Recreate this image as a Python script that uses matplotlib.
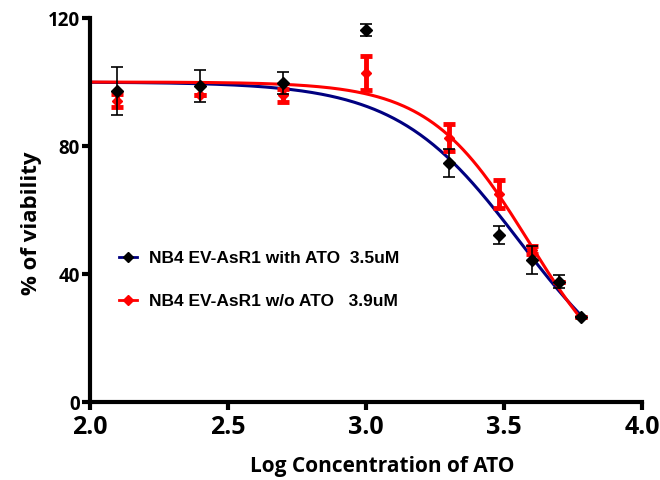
"""NB4 EV-AsR1 viability vs ATO"""
import numpy as np
import matplotlib
matplotlib.use('Agg')
import matplotlib.pyplot as plt

plt.rcParams['font.family'] = ['Open Sans', 'DejaVu Sans']

# data
log_conc = [2.1, 2.4, 2.7, 3.0, 3.3, 3.48, 3.6, 3.7, 3.78]
with_ato = [97.2, 98.7, 99.6, 116.2, 74.6, 52.2, 44.4, 37.6, 26.5]
with_ato_err = [7.5, 4.9, 3.4, 1.8, 4.4, 2.8, 4.4, 2.1, 0.0]
wo_ato = [94.2, 96.0, 95.8, 102.9, 82.6, 65.0, 47.6, 37.6, 26.5]
wo_ato_err = [2.0, 0.0, 2.0, 5.3, 4.2, 4.3, 1.3, 0.0, 0.0]

# fitted 4PL parameters (top, bottom, logIC50, hill)
fit_with = (100.0, 0.0, 3.558, 1.95)
fit_wo = (100.0, 0.0, 3.59, 2.4)

labels = ['NB4 EV-AsR1 with ATO  3.5uM', 'NB4 EV-AsR1 w/o ATO   3.9uM']


def four_pl(x, top, bottom, logic50, hill):
    return bottom + (top - bottom) / (1 + 10 ** ((x - logic50) * hill))


fig = plt.figure(figsize=(6.6, 4.8), dpi=100)
ax = fig.add_axes([0.136, 0.1625, 0.837, 0.8])

xs = np.linspace(2.0, 3.78, 300)
ax.plot(xs, four_pl(xs, *fit_with), color='#000080', linewidth=2.2, zorder=2)
ax.plot(xs, four_pl(xs, *fit_wo), color='#ff0000', linewidth=2.2, zorder=2)

ax.errorbar(log_conc, wo_ato, yerr=wo_ato_err, fmt='D', color='#ff0000',
            markersize=5.5, elinewidth=3.5, capsize=4, capthick=3.5, zorder=3)
ax.errorbar(log_conc, with_ato, yerr=with_ato_err, fmt='D', color='black',
            markersize=6, elinewidth=1.2, capsize=4, capthick=1.2, zorder=4)

# legend handles
h1, = ax.plot([], [], color='#000080', marker='D', markerfacecolor='black',
              markeredgecolor='black', markersize=5, linewidth=2)
h2, = ax.plot([], [], color='#ff0000', marker='D', markersize=5, linewidth=2)
ax.legend([h1, h2], labels, loc='upper left', bbox_to_anchor=(0.025, 0.435),
          frameon=False, handlelength=1.0, handletextpad=0.7, labelspacing=1.6,
          prop={'family': ['Liberation Sans', 'DejaVu Sans'], 'weight': 'bold', 'size': 12.5})

ax.set_xlim(2.0, 4.0)
ax.set_ylim(0, 120)
ax.set_xticks([2.0, 2.5, 3.0, 3.5, 4.0])
ax.set_xticklabels(['2.0', '2.5', '3.0', '3.5', '4.0'])
ax.set_yticks([0, 40, 80, 120])

for side in ['top', 'right']:
    ax.spines[side].set_visible(False)
for side in ['left', 'bottom']:
    ax.spines[side].set_linewidth(3)

ax.tick_params(axis='x', width=3, length=6, labelsize=18, pad=3)
ax.tick_params(axis='y', width=3, length=6, labelsize=13.5, pad=1)
for lab in ax.get_xticklabels() + ax.get_yticklabels():
    lab.set_fontweight('bold')

ax.set_xlabel('Log Concentration of ATO', fontsize=15, fontweight='bold', labelpad=12)
ax.set_ylabel('% of viability', fontsize=16, fontweight='bold', labelpad=4)
ax.xaxis.label.set_x(0.53)
ax.yaxis.label.set_y(0.465)

plt.savefig('out.png', dpi=100)
